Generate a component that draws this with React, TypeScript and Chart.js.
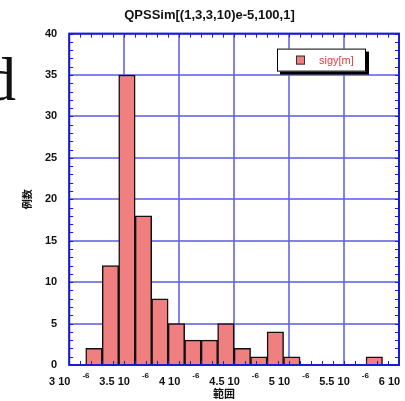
import React, { useEffect, useRef } from "react";
import { Chart, registerables } from "chart.js";

Chart.register(...registerables);

const chartTitle = "QPSSim[(1,3,3,10)e-5,100,1]";
const seriesLabel = "sigy[m]";
const xAxisTitle = "範囲";
const yAxisTitle = "例数";

// histogram bins (lower edges, in units of 1e-6 m) and counts
const binStarts = [3.15, 3.3, 3.45, 3.6, 3.75, 3.9, 4.05, 4.2, 4.35, 4.5, 4.65, 4.8, 4.95, 5.1, 5.25, 5.4, 5.55, 5.7];
const binWidth = 0.15;
const counts = [2, 12, 35, 18, 8, 5, 3, 3, 5, 2, 1, 4, 1, 0, 0, 0, 0, 1];

const xTickValues = [3, 3.5, 4, 4.5, 5, 5.5, 6];
const xTickMain = ["3 10", "3.5 10", "4 10", "4.5 10", "5 10", "5.5 10", "6 10"];
const xTickExp = "-6";
const xMinorStep = 0.1;
const yMinorStep = 1;

const LATIN = "'Liberation Sans', Arial, Helvetica, sans-serif";
const CJK = "'Noto Sans CJK JP', 'Noto Sans CJK SC', sans-serif";
const BAR_FILL = "rgb(240,128,128)";
const FRAME = "#1c1cd8";
const GRID = "rgba(96,96,230,0.78)";

const framePlugin = {
  id: "frameAndLabels",
  afterDatasetsDraw(chart: any) {
    const ctx = chart.ctx;
    const { left, right, top, bottom } = chart.chartArea;
    const xs = chart.scales.x;
    const ys = chart.scales.y;
    ctx.save();
    ctx.strokeStyle = FRAME;
    ctx.lineWidth = 1;
    ctx.beginPath();
    for (let v = xs.min; v <= xs.max + 1e-9; v += xMinorStep) {
      const px = Math.round(xs.getPixelForValue(v)) + 0.5;
      ctx.moveTo(px, bottom);
      ctx.lineTo(px, bottom - 4);
      ctx.moveTo(px, top);
      ctx.lineTo(px, top + 4);
    }
    for (let v = ys.min; v <= ys.max + 1e-9; v += yMinorStep) {
      const py = Math.round(ys.getPixelForValue(v)) + 0.5;
      ctx.moveTo(left, py);
      ctx.lineTo(left + 4, py);
      ctx.moveTo(right, py);
      ctx.lineTo(right - 4, py);
    }
    ctx.stroke();
    ctx.lineWidth = 2;
    ctx.strokeRect(left, top, right - left, bottom - top);

    // x tick labels with exponent
    ctx.fillStyle = "#111";
    ctx.textBaseline = "middle";
    ctx.textAlign = "left";
    xTickValues.forEach((v, i) => {
      const px = xs.getPixelForValue(v);
      ctx.font = `bold 11px ${LATIN}`;
      const w = ctx.measureText(xTickMain[i]).width;
      ctx.font = `bold 8px ${LATIN}`;
      const s = ctx.measureText(xTickExp).width;
      const gap = 12;
      const start = px - (w + gap + s) / 2;
      ctx.font = `bold 11px ${LATIN}`;
      ctx.fillText(xTickMain[i], start, bottom + 17);
      ctx.font = `bold 8px ${LATIN}`;
      ctx.fillText(xTickExp, start + w + gap, bottom + 10.5);
    });
    // x axis title
    ctx.font = `bold 11px ${CJK}`;
    ctx.textAlign = "center";
    ctx.fillText(xAxisTitle, (left + right) / 2 - 10, bottom + 29);

    // legend
    const ds = chart.data.datasets[0];
    const bx = right - 122;
    const by = top + 15;
    const bw = 89;
    const bh = 23;
    ctx.fillStyle = "#000";
    ctx.fillRect(bx + 3, by + 3, bw, bh);
    ctx.fillStyle = "#fff";
    ctx.fillRect(bx, by, bw, bh);
    ctx.lineWidth = 1;
    ctx.strokeStyle = "#000";
    ctx.strokeRect(bx + 0.5, by + 0.5, bw - 1, bh - 1);
    ctx.fillStyle = ds.backgroundColor;
    ctx.fillRect(bx + 19, by + 7, 9, 9);
    ctx.strokeStyle = "#333";
    ctx.strokeRect(bx + 19.5, by + 7.5, 8, 8);
    ctx.fillStyle = "#e0403f";
    ctx.font = `11px ${LATIN}`;
    ctx.textAlign = "left";
    ctx.fillText(ds.label, bx + 42, by + 12);
    ctx.restore();
  },
};

export default function App() {
  const canvasRef = useRef<HTMLCanvasElement | null>(null);

  useEffect(() => {
    if (!canvasRef.current) return;
    const data = binStarts.map((s, i) => ({
      x: s + binWidth / 2,
      y: counts[i] === 0 ? null : counts[i],
    }));
    const chart = new Chart(canvasRef.current, {
      type: "bar",
      data: {
        datasets: [
          {
            label: seriesLabel,
            data: data as any,
            backgroundColor: BAR_FILL,
            borderColor: "#111",
            borderWidth: 1.5,
            barPercentage: 1,
            categoryPercentage: 1,
          },
        ],
      },
      options: {
        responsive: false,
        animation: false,
        layout: { padding: { left: 20, right: 6, top: 0, bottom: 36 } },
        plugins: {
          legend: { display: false },
          tooltip: { enabled: false },
          title: {
            display: true,
            text: chartTitle,
            color: "#111",
            font: { family: LATIN, size: 13, weight: "bold" },
            padding: { top: 8, bottom: 10 },
          },
        },
        scales: {
          x: {
            type: "linear",
            min: 3,
            max: 6,
            offset: false,
            ticks: { display: false, stepSize: 0.5 },
            grid: {
              offset: false,
              drawTicks: false,
              color: GRID,
              lineWidth: 2,
            },
            border: { display: false },
          },
          y: {
            min: 0,
            max: 40,
            ticks: {
              stepSize: 5,
              padding: 12,
              color: "#111",
              font: { family: LATIN, size: 11, weight: "bold" },
            },
            grid: {
              drawTicks: false,
              color: GRID,
              lineWidth: 2,
            },
            border: { display: false },
            title: {
              display: true,
              text: yAxisTitle,
              color: "#111",
              font: { family: CJK, size: 10, weight: "bold" },
              padding: { top: 1, bottom: 0 },
            },
          },
        },
      },
      plugins: [framePlugin],
    });
    return () => chart.destroy();
  }, []);

  return (
    <div style={{ position: "absolute", left: 0, top: 0, width: 405, height: 401, background: "#fff", overflow: "hidden" }}>
      <canvas ref={canvasRef} width={405} height={401} style={{ display: "block" }} />
      <span
        style={{
          position: "absolute",
          left: -15,
          top: 48,
          fontFamily: "'Liberation Serif', 'Times New Roman', serif",
          fontSize: 62,
          lineHeight: "62px",
          color: "#111",
        }}
      >
        d
      </span>
    </div>
  );
}
